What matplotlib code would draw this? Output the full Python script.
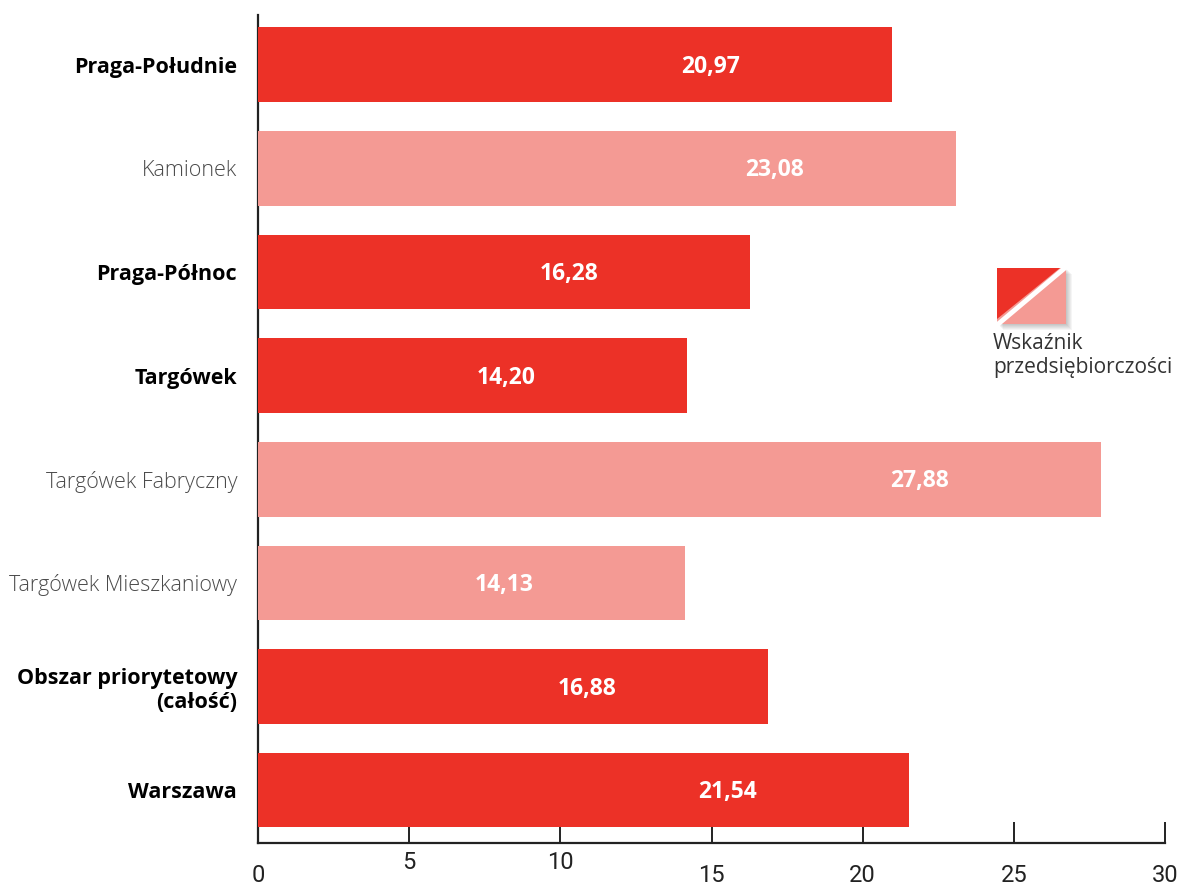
import numpy as np
import matplotlib.pyplot as plt
import matplotlib.transforms as mtransforms
from matplotlib.patches import Polygon

# wskaźnik przedsiębiorczości per area
areas = ["Praga-Południe", "Kamionek", "Praga-Północ", "Targówek",
         "Targówek Fabryczny", "Targówek Mieszkaniowy",
         "Obszar priorytetowy\n(całość)", "Warszawa"]
values = [20.97, 23.08, 16.28, 14.20, 27.88, 14.13, 16.88, 21.54]
is_main = [True, False, True, True, False, False, True, True]
xticks = [0, 5, 10, 15, 20, 25, 30]

DARK = "#EC3127"
LIGHT = "#F49A94"

plt.rcParams["font.family"] = ["Open Sans", "DejaVu Sans"]

fig = plt.figure(figsize=(11.84, 8.85), dpi=100)
ax = fig.add_axes([258 / 1184, 1 - 843 / 885, 907 / 1184, 828 / 885])

y = np.arange(len(areas))
colors = [DARK if m else LIGHT for m in is_main]
ax.barh(y, values, height=0.72, color=colors, zorder=3)

for yi, v in zip(y, values):
    ax.text(v - 6.0, yi + 0.02, f"{v:.2f}".replace(".", ","), ha="center", va="center",
            color="white", fontsize=16.5, fontweight="bold", zorder=4)

ax.set_xlim(0, 30)
ax.set_ylim(7.51, -0.48)

ax.set_yticks(y)
ax.set_yticklabels(areas)
for lbl, m in zip(ax.get_yticklabels(), is_main):
    if m:
        lbl.set_fontweight("bold")
        lbl.set_color("black")
    else:
        lbl.set_fontweight("light")
        lbl.set_color("#4a4a4a")
    lbl.set_fontsize(15.5)
    lbl.set_multialignment("right")
ax.tick_params(axis="y", length=0, pad=15)

ax.set_xticks(xticks)
ax.set_xticklabels([str(t) for t in xticks])
ax.tick_params(axis="x", direction="in", length=15, width=1.4, color="#222222",
               pad=15, labelsize=17, labelcolor="#222222")
for lbl, t in zip(ax.get_xticklabels(), xticks):
    lbl.set_family(["Liberation Sans Narrow", "Roboto", "DejaVu Sans"])
    # 5 and 10 sit a bit higher than the rest
    if t in (5, 10):
        lbl.set_transform(lbl.get_transform() +
                          mtransforms.ScaledTranslation(0, 9 / 72, fig.dpi_scale_trans))

for side in ("top", "right"):
    ax.spines[side].set_visible(False)
for side in ("left", "bottom"):
    ax.spines[side].set_linewidth(1.6)
    ax.spines[side].set_color("#222222")

# legend swatch: split rectangle with a soft drop shadow (pixel coordinates)
lg = fig.add_axes([990 / 1184, 1 - 335 / 885, 90 / 1184, 75 / 885])
lg.set_xlim(990, 1080)
lg.set_ylim(335, 260)
lg.axis("off")
x0, x1, y0, y1 = 997, 1066, 268, 324
for k in range(6, 0, -1):
    lg.add_patch(Polygon([(x0 + k, y0 + k), (x1 + k, y0 + k), (x1 + k, y1 + k), (x0 + k, y1 + k)],
                         closed=True, color="#000000", alpha=0.04, lw=0))
lg.add_patch(Polygon([(x0, y0), (x1, y0), (x1, y1), (x0, y1)], closed=True, color=LIGHT, lw=0))
lg.add_patch(Polygon([(x0, y0), (x1 - 6, y0), (x0, y1 - 5)], closed=True, color=DARK, lw=0))
lg.plot([x0, x1], [y1 + 1, y0 - 1], color="white", lw=3.5, solid_capstyle="butt")

fig.text(993 / 1184, 1 - 333 / 885, "Wskaźnik\nprzedsiębiorczości", ha="left", va="top",
         fontsize=15, color="#333333", linespacing=1.2)

fig.savefig("out.png", dpi=100, facecolor="white")
